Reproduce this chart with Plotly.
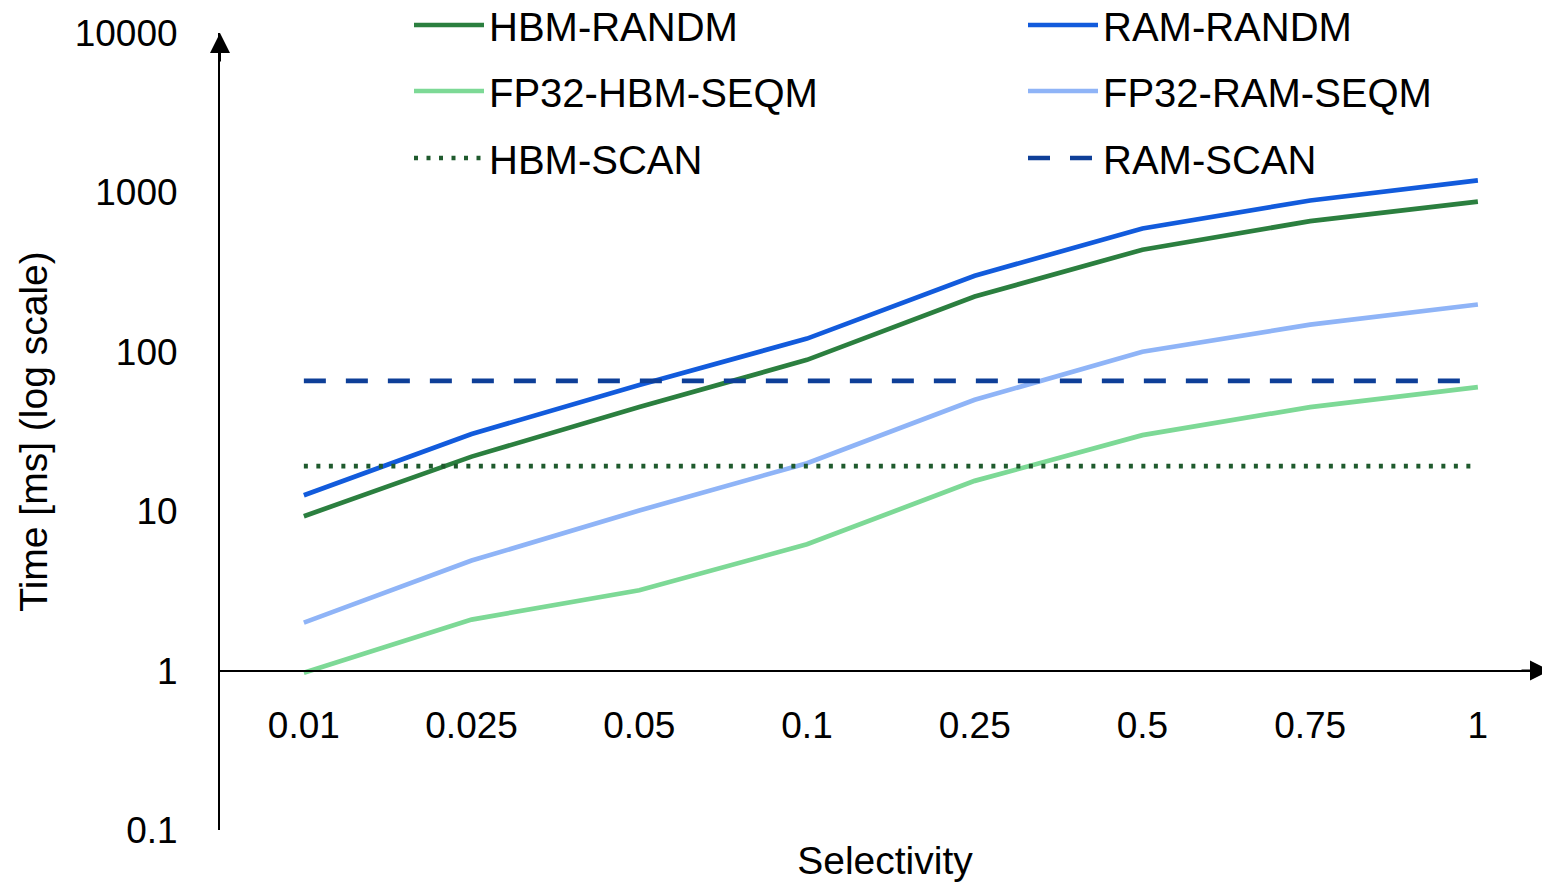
import plotly.graph_objects as go

selectivity = ["0.01", "0.025", "0.05", "0.1", "0.25", "0.5", "0.75", "1"]

hbm_randm = [9.3, 22, 45, 89, 222, 437, 660, 875]
ram_randm = [12.6, 30.5, 62, 121, 300, 594, 890, 1190]
fp32_hbm_seqm = [0.97, 2.09, 3.19, 6.2, 15.5, 30, 45, 60]
fp32_ram_seqm = [2.0, 4.9, 10.1, 20, 50, 100, 148, 198]
hbm_scan = [19.2] * len(selectivity)
ram_scan = [65.7] * len(selectivity)

y_tick_vals = [0.1, 1, 10, 100, 1000, 10000]
y_tick_text = ["0.1", "1", "10", "100", "1000", "10000"]

FONT = "Liberation Sans"

series = [
    ("HBM-RANDM", hbm_randm, "#2b7f3f", "solid", "legend"),
    ("RAM-RANDM", ram_randm, "#125bdc", "solid", "legend"),
    ("FP32-HBM-SEQM", fp32_hbm_seqm, "#7dd996", "solid", "legend2"),
    ("FP32-RAM-SEQM", fp32_ram_seqm, "#8fb4f7", "solid", "legend2"),
    ("HBM-SCAN", hbm_scan, "#1f5a2d", "4px,8.5px", "legend3"),
    ("RAM-SCAN", ram_scan, "#0e3f98", "22px,20px", "legend3"),
]

fig = go.Figure()
for name, vals, color, dash, leg in series:
    fig.add_trace(go.Scatter(
        x=selectivity, y=vals, name=name, mode="lines",
        line=dict(color=color, width=4.7, dash=dash),
        legend=leg,
    ))

def legend_cfg(ypix):
    return dict(
        orientation="h", xref="container", yref="container",
        x=401 / 1550, xanchor="left", y=1 - ypix / 883, yanchor="middle",
        entrywidth=529, entrywidthmode="pixels", itemwidth=70,
        font=dict(family=FONT, size=40, color="black"),
        bgcolor="rgba(0,0,0,0)", borderwidth=0,
    )

fig.update_layout(
    width=1550, height=883,
    margin=dict(l=212, r=8, t=25, b=61, autoexpand=False),
    paper_bgcolor="white", plot_bgcolor="white",
    font=dict(family=FONT, color="black"),
    legend=legend_cfg(17),
    legend2=legend_cfg(83),
    legend3=legend_cfg(150),
    xaxis=dict(
        type="category", range=[-0.5, 7.43],
        anchor="free", position=0.2,
        showline=True, linecolor="black", linewidth=2,
        showgrid=False, zeroline=False, ticks="",
        tickfont=dict(family=FONT, size=37, color="black"),
        ticklabelstandoff=22,
        title=dict(text="Selectivity", font=dict(family=FONT, size=39, color="black"), standoff=101),
        automargin=False,
    ),
    yaxis=dict(
        type="log", range=[-1, 4],
        showline=True, linecolor="black", linewidth=2,
        showgrid=False, zeroline=False, ticks="",
        tickvals=y_tick_vals, ticktext=y_tick_text,
        tickfont=dict(family=FONT, size=37, color="black"),
        ticklabelstandoff=33,
        title=dict(text="Time [ms] (log scale)", font=dict(family=FONT, size=39, color="black"), standoff=15),
        automargin=False,
    ),
    annotations=[
        dict(xref="paper", yref="paper", x=0, y=1.0, text="", showarrow=True,
             arrowhead=2, arrowsize=2, arrowwidth=2, arrowcolor="black", ax=0, ay=30),
        dict(xref="paper", yref="paper", x=1.0, y=0.2, text="", showarrow=True,
             arrowhead=2, arrowsize=2, arrowwidth=2, arrowcolor="black", ax=-30, ay=0),
    ],
)

fig.write_html("out.html")
